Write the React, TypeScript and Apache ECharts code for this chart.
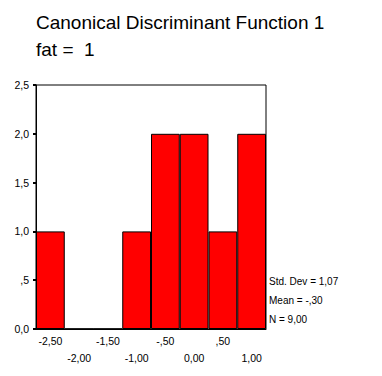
import React, { useEffect, useRef } from "react";
import * as echarts from "echarts";

const binLabels = ["-2,50", "-2,00", "-1,50", "-1,00", "-,50", "0,00", ",50", "1,00"];
const counts = [1, 0, 0, 1, 2, 2, 1, 2];
const yTickLabels: Record<string, string> = { "0": "0,0", "0.5": ",5", "1": "1,0", "1.5": "1,5", "2": "2,0", "2.5": "2,5" };
const titleLines = ["Canonical Discriminant Function 1", "fat =  1"];
const statLines = ["Std. Dev = 1,07", "Mean = -,30", "N = 9,00"];

export default function App() {
  const ref = useRef<HTMLDivElement>(null);
  useEffect(() => {
    if (!ref.current) return;
    const chart = echarts.init(ref.current, undefined, { renderer: "svg" });
    const font = "Arial, 'Liberation Sans', sans-serif";
    chart.setOption({
      animation: false,
      backgroundColor: "#ffffff",
      grid: { left: 36, top: 85, width: 230, height: 244, show: true, borderColor: "#000", borderWidth: 1, backgroundColor: "transparent" },
      xAxis: {
        type: "category",
        data: binLabels,
        boundaryGap: true,
        axisLine: { lineStyle: { color: "#000", width: 1 } },
        axisTick: { alignWithLabel: true, length: 3, lineStyle: { color: "#000", width: 2 } },
        axisLabel: {
          interval: 0,
          color: "#000",
          fontSize: 10.5,
          fontFamily: font,
          margin: 3,
          lineHeight: 17,
          formatter: (v: string, i: number) => (i % 2 === 1 ? "\n" + v : v),
        },
        splitLine: { show: false },
      },
      yAxis: {
        type: "value",
        min: 0,
        max: 2.5,
        interval: 0.5,
        axisLine: { show: true, lineStyle: { color: "#000", width: 1 } },
        axisTick: { show: true, length: 3, lineStyle: { color: "#000", width: 2 } },
        axisLabel: {
          color: "#000",
          fontSize: 10.5,
          fontFamily: font,
          margin: 7,
          formatter: (v: number) => yTickLabels[String(v)] ?? String(v),
        },
        splitLine: { show: false },
      },
      series: [
        {
          type: "bar",
          data: counts,
          barWidth: "100%",
          barCategoryGap: "0%",
          itemStyle: { color: "#ff0000", borderColor: "#000", borderWidth: 1 },
        },
      ],
      graphic: [
        ...titleLines.map((t, i) => ({
          type: "text",
          left: 36,
          top: 13 + i * 27,
          style: { text: t, fontSize: 19, fontFamily: font, fill: "#000" },
        })),
        ...statLines.map((t, i) => ({
          type: "text",
          left: 269,
          top: 276 + i * 19,
          style: { text: t, fontSize: 10, fontFamily: font, fill: "#000" },
        })),
      ],
    });
    return () => chart.dispose();
  }, []);
  return <div ref={ref} style={{ position: "absolute", left: 0, top: 0, width: 382, height: 376 }} />;
}
